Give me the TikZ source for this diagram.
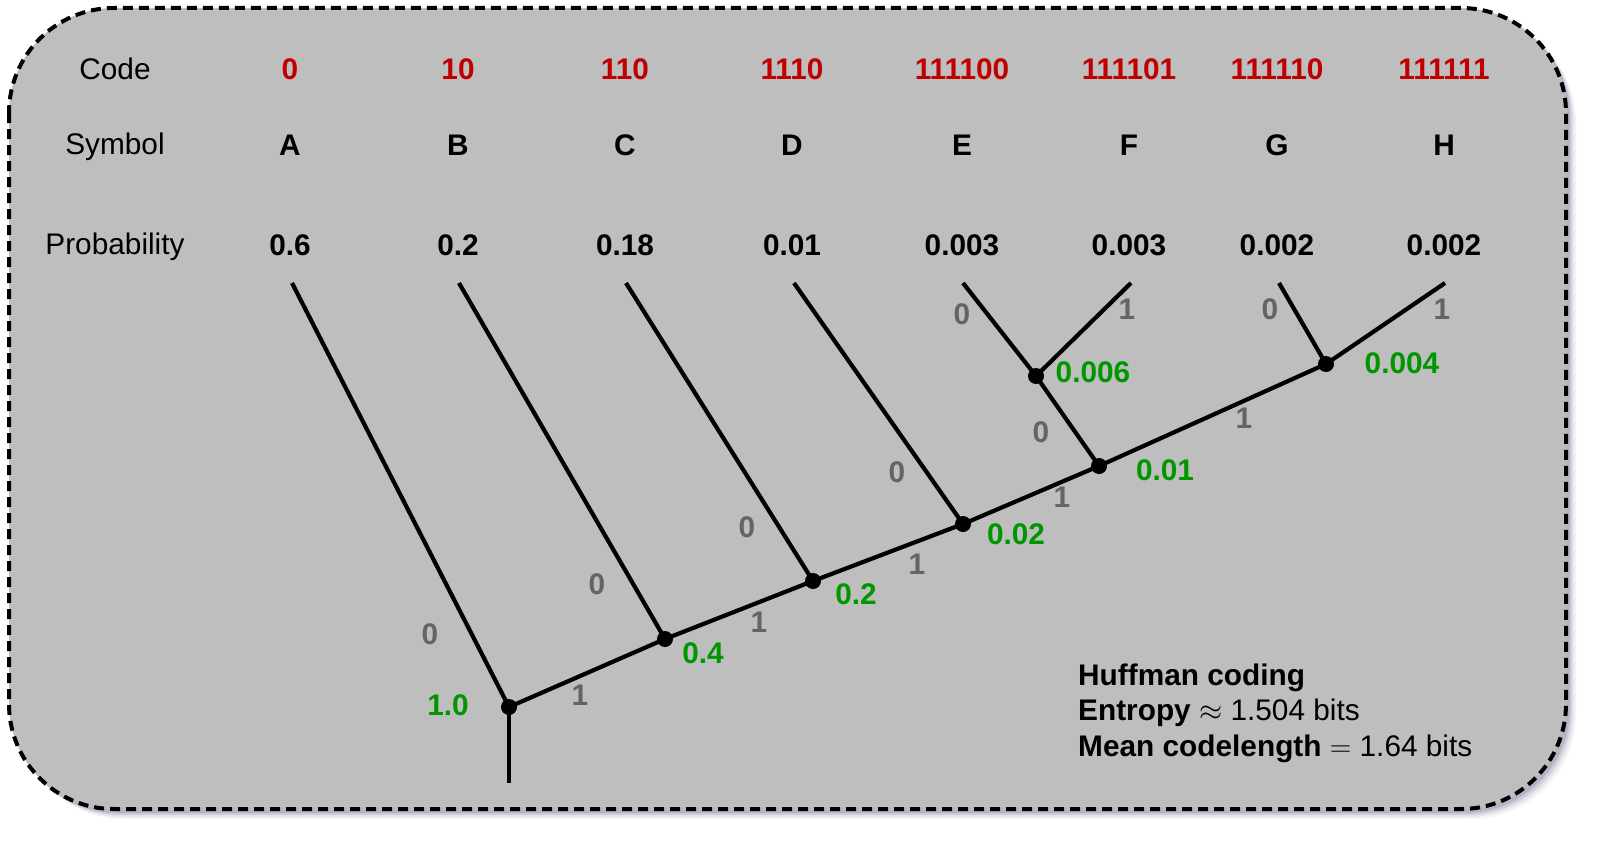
\documentclass[tikz,border=0pt]{standalone}
\usepackage{fontspec}
\setmainfont{Liberation Sans}
\definecolor{bgc}{RGB}{190,190,190}
\definecolor{shc}{RGB}{120,120,150}
\definecolor{codec}{RGB}{192,0,0}
\definecolor{probc}{RGB}{0,150,0}
\definecolor{bitc}{RGB}{100,100,100}
\newcommand{\bigrel}[1]{\scalebox{1.2}{$#1$}}
\tikzset{
  txt/.style={font=\fontsize{29.8}{35}\selectfont, inner sep=0pt},
  btxt/.style={font=\fontsize{29.8}{35}\selectfont\bfseries, inner sep=0pt},
  codetxt/.style={btxt, text=codec},
  probtxt/.style={btxt, text=probc},
  bittxt/.style={btxt, text=bitc},
  dot/.style={circle, fill=black, inner sep=0pt, minimum size=16pt},
  edge/.style={line width=4.2pt},
}
\begin{document}
\begin{tikzpicture}[x=1pt,y=-1pt]
\useasboundingbox (0,0) rectangle (1598,843);
% shadow
\foreach \o/\op in {10/0.08,8/0.12,6/0.2,4/0.3}{
  \fill[shc, opacity=\op, rounded corners=105pt] (9+\o,8+\o) rectangle (1566+\o,809+\o);
}
% frame
\draw[line width=4pt, dash pattern=on 10pt off 6pt, fill=bgc, rounded corners=105pt] (9,8) rectangle (1566,809);
% row headers
\node[txt] (hcode) at (115,69) {Code};
\node[txt] (hsym) at (115,147) {Symbol};
\node[txt] (hprob) at (115,247) {Probability};
% columns
\foreach \n/\x/\c/\s/\p in {A/290/0/A/0.6, B/458/10/B/0.2, C/625/110/C/0.18, D/792/1110/D/0.01, E/962/111100/E/0.003, F/1129/111101/F/0.003, G/1277/111110/G/0.002, H/1444/111111/H/0.002}{
  \node[codetxt] (c\n) at (\x,69) {\c};
  \node[btxt] (s\n) at (\x,145) {\s};
  \node[btxt] (p\n) at (\x,245) {\p};
}
% leaf tops
\coordinate (tA) at (292,283);
\coordinate (tB) at (459,283);
\coordinate (tC) at (626,283);
\coordinate (tD) at (794,283);
\coordinate (tE) at (963,283);
\coordinate (tF) at (1131,283);
\coordinate (tG) at (1279,283);
\coordinate (tH) at (1445,283);
\coordinate (bot) at (509,783);
% inner nodes
\node[dot] (n1) at (509,707) {};
\node[dot] (n2) at (665,639) {};
\node[dot] (n3) at (813,581) {};
\node[dot] (n4) at (963,524) {};
\node[dot] (n5) at (1099,466) {};
\node[dot] (n6) at (1036,376) {};
\node[dot] (n7) at (1326,364) {};
% edges
\draw[edge] (n1.center) -- (bot);
\draw[edge] (n1.center) -- (tA);
\draw[edge] (n1.center) -- (n2.center);
\draw[edge] (n2.center) -- (tB);
\draw[edge] (n2.center) -- (n3.center);
\draw[edge] (n3.center) -- (tC);
\draw[edge] (n3.center) -- (n4.center);
\draw[edge] (n4.center) -- (tD);
\draw[edge] (n4.center) -- (n5.center);
\draw[edge] (n5.center) -- (n6.center);
\draw[edge] (n6.center) -- (tE);
\draw[edge] (n6.center) -- (tF);
\draw[edge] (n5.center) -- (n7.center);
\draw[edge] (n7.center) -- (tG);
\draw[edge] (n7.center) -- (tH);
% probabilities at nodes
\node[probtxt] (q1) at (448,705) {1.0};
\node[probtxt] (q2) at (703,653) {0.4};
\node[probtxt] (q3) at (856,594) {0.2};
\node[probtxt] (q4) at (1016,534) {0.02};
\node[probtxt] (q5) at (1165,470) {0.01};
\node[probtxt] (q6) at (1093,372) {0.006};
\node[probtxt] (q7) at (1402,363) {0.004};
% bit labels
\node[bittxt] (b1) at (430,634) {0};
\node[bittxt] (b2) at (580,695) {1};
\node[bittxt] (b3) at (597,584) {0};
\node[bittxt] (b4) at (759,622) {1};
\node[bittxt] (b5) at (747,527) {0};
\node[bittxt] (b6) at (917,564) {1};
\node[bittxt] (b7) at (897,472) {0};
\node[bittxt] (b8) at (1062,497) {1};
\node[bittxt] (b9) at (1041,432) {0};
\node[bittxt] (b10) at (1244,418) {1};
\node[bittxt] (b11) at (962,314) {0};
\node[bittxt] (b12) at (1127,309) {1};
\node[bittxt] (b13) at (1270,309) {0};
\node[bittxt] (b14) at (1442,309) {1};
% info text
\node[txt, anchor=base west] (i1) at (1078,685) {\textbf{Huffman coding}};
\node[txt, anchor=base west] (i2) at (1078,720) {\textbf{Entropy} \bigrel{\approx} 1.504 bits};
\node[txt, anchor=base west] (i3) at (1078,756) {\textbf{Mean codelength} \bigrel{=} 1.64 bits};
\end{tikzpicture}
\end{document}
